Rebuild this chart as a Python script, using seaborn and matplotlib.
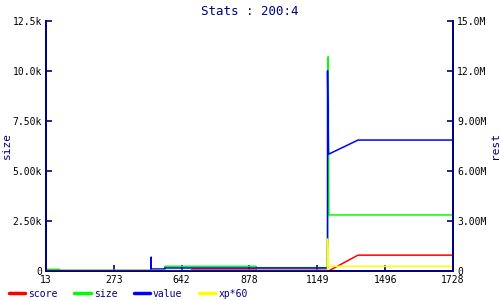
import matplotlib
matplotlib.use("Agg")
import matplotlib.pyplot as plt
from matplotlib.lines import Line2D
from matplotlib.ticker import FuncFormatter
import seaborn as sns
import pandas as pd

# ---- data (x = sample index; tick labels are the sample ids) ----
x_tick_labels = ["13", "273", "642", "878", "1149", "1496", "1728"]
x_tick_step = 20

score_x = [0, 43, 43, 62, 62, 83, 83.3, 92, 120]
score_y = [0.02e6, 0.02e6, 0.11e6, 0.11e6, 0.05e6, 0.05e6, 0.0, 0.95e6, 0.95e6]

size_x = [0, 4, 4, 35, 35, 62, 62, 83, 83.2, 83.4, 120]
size_y = [85, 85, 20, 20, 235, 235, 165, 165, 10700, 2800, 2800]

value_x = [0, 31, 31, 31, 35, 35, 83, 83, 83.3, 92, 120]
value_y = [0.03e6, 0.03e6, 0.82e6, 0.12e6, 0.12e6, 0.18e6, 0.18e6, 12.0e6, 7.0e6, 7.85e6, 7.85e6]

xp_x = [0, 83, 83, 83.3, 120]
xp_y = [0.03e6, 0.03e6, 1.92e6, 0.28e6, 0.28e6]

series_names = ["score", "size", "value", "xp*60"]
series_colors = ["#ff0000", "#00ff00", "#0000ff", "#ffff00"]

left_ticks = [0, 2500, 5000, 7500, 10000, 12500]
right_ticks = [0, 3e6, 6e6, 9e6, 12e6, 15e6]

NAVY = "#000080"

sns.set_style("white")
plt.rcParams["font.family"] = ["DejaVu Sans Mono", "DejaVu Sans"]

def fmt(v, pos=None):
    if v == 0:
        return "0"
    for div, suf in ((1e6, "M"), (1e3, "k")):
        if abs(v) >= div:
            s = v / div
            if s >= 10:
                return f"{s:.1f}{suf}"
            return f"{s:.2f}{suf}"
    return f"{v:g}"

fig = plt.figure(figsize=(5, 3), dpi=100)
ax = fig.add_axes([0.092, 0.0967, 0.814, 0.834])
ax2 = ax.twinx()

df_left = pd.DataFrame({"x": size_x, "y": size_y, "series": "size"})
df_right = pd.concat([
    pd.DataFrame({"x": score_x, "y": score_y, "series": "score"}),
    pd.DataFrame({"x": value_x, "y": value_y, "series": "value"}),
    pd.DataFrame({"x": xp_x, "y": xp_y, "series": "xp*60"}),
], ignore_index=True)

pal = dict(zip(series_names, series_colors))
sns.lineplot(data=df_left, x="x", y="y", hue="series", palette=pal, sort=False,
             estimator=None, ax=ax, legend=False, linewidth=1.1)
sns.lineplot(data=df_right, x="x", y="y", hue="series", palette=pal, sort=False,
             estimator=None, ax=ax2, legend=False, linewidth=1.1)

n_ticks = len(x_tick_labels)
ax.set_xlim(0, (n_ticks - 1) * x_tick_step)
ax.set_xticks([i * x_tick_step for i in range(n_ticks)])
ax.set_xticklabels(x_tick_labels)
ax.set_ylim(left_ticks[0], left_ticks[-1])
ax.set_yticks(left_ticks)
ax.yaxis.set_major_formatter(FuncFormatter(fmt))
ax2.set_ylim(right_ticks[0], right_ticks[-1])
ax2.set_yticks(right_ticks)
ax2.yaxis.set_major_formatter(FuncFormatter(fmt))

for a in (ax, ax2):
    a.spines["top"].set_visible(False)
    for side in ("left", "right", "bottom"):
        a.spines[side].set_color(NAVY)
        a.spines[side].set_linewidth(1.3)
    a.tick_params(axis="both", direction="in", length=4, width=1.2, color=NAVY,
                  labelcolor="black", labelsize=7, pad=3)
    a.set_xlabel("")
    a.grid(False)
ax.tick_params(axis="y", left=True, right=False, labelleft=True, labelright=False)
ax.tick_params(axis="x", bottom=True, top=False)
ax2.tick_params(axis="y", left=False, right=True, labelleft=False, labelright=True)

ax.set_ylabel("size", color=NAVY, fontsize=8)
ax2.set_ylabel("rest", color=NAVY, fontsize=8)
ax.yaxis.set_label_coords(-0.083, 0.5)
ax2.yaxis.set_label_coords(1.09, 0.5)
ax.set_title("Stats : 200:4", color=NAVY, fontsize=9, pad=4)

handles = [Line2D([0], [0], color=c, lw=2.5) for c in series_colors]
leg = fig.legend(handles, series_names, loc="lower left", bbox_to_anchor=(0.0, -0.025),
                 ncol=4, frameon=False, fontsize=7, handlelength=1.7,
                 handletextpad=0.3, columnspacing=1.7)
for t in leg.get_texts():
    t.set_color(NAVY)

fig.savefig("out.png", dpi=100)
